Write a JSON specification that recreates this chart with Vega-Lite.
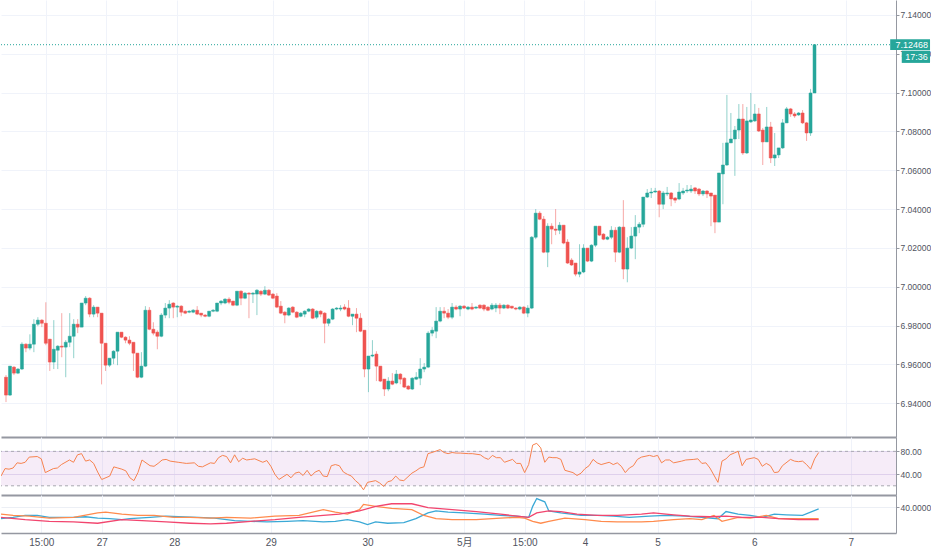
{
  "$schema": "https://vega.github.io/schema/vega-lite/v6.json",
  "background": "white",
  "padding": 0,
  "spacing": 0,
  "datasets": {
    "candles": [
      {"i":0,"o":6.9534,"h":6.9545,"l":6.9406,"c":6.9442},
      {"i":1,"o":6.9442,"h":6.9591,"l":6.9437,"c":6.9591},
      {"i":2,"o":6.9586,"h":6.9591,"l":6.9545,"c":6.9555},
      {"i":3,"o":6.9555,"h":6.9581,"l":6.9550,"c":6.9576},
      {"i":4,"o":6.9576,"h":6.9714,"l":6.9571,"c":6.9704},
      {"i":5,"o":6.9704,"h":6.9709,"l":6.9663,"c":6.9684},
      {"i":6,"o":6.9684,"h":6.9755,"l":6.9673,"c":6.9704},
      {"i":7,"o":6.9704,"h":6.9833,"l":6.9663,"c":6.9807},
      {"i":8,"o":6.9807,"h":6.9843,"l":6.9797,"c":6.9828},
      {"i":9,"o":6.9828,"h":6.9833,"l":6.9792,"c":6.9812},
      {"i":10,"o":6.9812,"h":6.9920,"l":6.9699,"c":6.9709},
      {"i":11,"o":6.9730,"h":6.9730,"l":6.9566,"c":6.9612},
      {"i":12,"o":6.9612,"h":6.9828,"l":6.9576,"c":6.9678},
      {"i":13,"o":6.9673,"h":6.9699,"l":6.9576,"c":6.9694},
      {"i":14,"o":6.9694,"h":6.9864,"l":6.9637,"c":6.9689},
      {"i":15,"o":6.9689,"h":6.9725,"l":6.9534,"c":6.9714},
      {"i":16,"o":6.9714,"h":6.9864,"l":6.9689,"c":6.9745},
      {"i":17,"o":6.9745,"h":6.9833,"l":6.9632,"c":6.9807},
      {"i":18,"o":6.9807,"h":6.9833,"l":6.9761,"c":6.9792},
      {"i":19,"o":6.9792,"h":6.9916,"l":6.9792,"c":6.9916},
      {"i":20,"o":6.9916,"h":6.9952,"l":6.9905,"c":6.9941},
      {"i":21,"o":6.9941,"h":6.9946,"l":6.9843,"c":6.9859},
      {"i":22,"o":6.9859,"h":6.9905,"l":6.9843,"c":6.9895},
      {"i":23,"o":6.9895,"h":6.9895,"l":6.9843,"c":6.9864},
      {"i":24,"o":6.9864,"h":6.9864,"l":6.9497,"c":6.9709},
      {"i":25,"o":6.9709,"h":6.9709,"l":6.9566,"c":6.9596},
      {"i":26,"o":6.9596,"h":6.9632,"l":6.9586,"c":6.9632},
      {"i":27,"o":6.9632,"h":6.9673,"l":6.9601,"c":6.9668},
      {"i":28,"o":6.9668,"h":6.9766,"l":6.9596,"c":6.9766},
      {"i":29,"o":6.9766,"h":6.9766,"l":6.9735,"c":6.9740},
      {"i":30,"o":6.9740,"h":6.9745,"l":6.9709,"c":6.9725},
      {"i":31,"o":6.9725,"h":6.9745,"l":6.9699,"c":6.9709},
      {"i":32,"o":6.9714,"h":6.9714,"l":6.9566,"c":6.9658},
      {"i":33,"o":6.9658,"h":6.9658,"l":6.9529,"c":6.9534},
      {"i":34,"o":6.9534,"h":6.9663,"l":6.9529,"c":6.9591},
      {"i":35,"o":6.9591,"h":6.9900,"l":6.9586,"c":6.9879},
      {"i":36,"o":6.9879,"h":6.9895,"l":6.9776,"c":6.9781},
      {"i":37,"o":6.9781,"h":6.9817,"l":6.9750,"c":6.9761},
      {"i":38,"o":6.9766,"h":6.9776,"l":6.9678,"c":6.9745},
      {"i":39,"o":6.9745,"h":6.9864,"l":6.9740,"c":6.9854},
      {"i":40,"o":6.9854,"h":6.9916,"l":6.9838,"c":6.9890},
      {"i":41,"o":6.9890,"h":6.9931,"l":6.9838,"c":6.9910},
      {"i":42,"o":6.9916,"h":6.9920,"l":6.9838,"c":6.9895},
      {"i":43,"o":6.9895,"h":6.9905,"l":6.9843,"c":6.9900},
      {"i":44,"o":6.9900,"h":6.9905,"l":6.9848,"c":6.9869},
      {"i":45,"o":6.9874,"h":6.9879,"l":6.9859,"c":6.9864},
      {"i":46,"o":6.9869,"h":6.9879,"l":6.9864,"c":6.9874},
      {"i":47,"o":6.9869,"h":6.9885,"l":6.9864,"c":6.9879},
      {"i":48,"o":6.9879,"h":6.9900,"l":6.9854,"c":6.9859},
      {"i":49,"o":6.9864,"h":6.9864,"l":6.9843,"c":6.9854},
      {"i":50,"o":6.9854,"h":6.9859,"l":6.9843,"c":6.9848},
      {"i":51,"o":6.9848,"h":6.9874,"l":6.9843,"c":6.9874},
      {"i":52,"o":6.9874,"h":6.9885,"l":6.9869,"c":6.9879},
      {"i":53,"o":6.9874,"h":6.9916,"l":6.9869,"c":6.9916},
      {"i":54,"o":6.9916,"h":6.9931,"l":6.9905,"c":6.9926},
      {"i":55,"o":6.9916,"h":6.9941,"l":6.9910,"c":6.9936},
      {"i":56,"o":6.9936,"h":6.9946,"l":6.9910,"c":6.9920},
      {"i":57,"o":6.9926,"h":6.9926,"l":6.9900,"c":6.9905},
      {"i":58,"o":6.9905,"h":6.9977,"l":6.9900,"c":6.9977},
      {"i":59,"o":6.9977,"h":6.9982,"l":6.9905,"c":6.9941},
      {"i":60,"o":6.9941,"h":6.9972,"l":6.9936,"c":6.9967},
      {"i":61,"o":6.9967,"h":6.9972,"l":6.9838,"c":6.9962},
      {"i":62,"o":6.9962,"h":6.9972,"l":6.9916,"c":6.9967},
      {"i":63,"o":6.9962,"h":6.9988,"l":6.9854,"c":6.9982},
      {"i":64,"o":6.9977,"h":6.9982,"l":6.9952,"c":6.9962},
      {"i":65,"o":6.9962,"h":7.0003,"l":6.9957,"c":6.9982},
      {"i":66,"o":6.9982,"h":6.9988,"l":6.9952,"c":6.9957},
      {"i":67,"o":6.9962,"h":6.9967,"l":6.9936,"c":6.9941},
      {"i":68,"o":6.9952,"h":6.9967,"l":6.9890,"c":6.9895},
      {"i":69,"o":6.9900,"h":6.9926,"l":6.9859,"c":6.9864},
      {"i":70,"o":6.9869,"h":6.9874,"l":6.9812,"c":6.9854},
      {"i":71,"o":6.9854,"h":6.9895,"l":6.9848,"c":6.9890},
      {"i":72,"o":6.9895,"h":6.9900,"l":6.9864,"c":6.9869},
      {"i":73,"o":6.9869,"h":6.9874,"l":6.9838,"c":6.9843},
      {"i":74,"o":6.9848,"h":6.9869,"l":6.9843,"c":6.9864},
      {"i":75,"o":6.9859,"h":6.9879,"l":6.9843,"c":6.9874},
      {"i":76,"o":6.9874,"h":6.9890,"l":6.9869,"c":6.9885},
      {"i":77,"o":6.9885,"h":6.9890,"l":6.9833,"c":6.9838},
      {"i":78,"o":6.9843,"h":6.9879,"l":6.9833,"c":6.9874},
      {"i":79,"o":6.9874,"h":6.9879,"l":6.9843,"c":6.9859},
      {"i":80,"o":6.9864,"h":6.9869,"l":6.9709,"c":6.9812},
      {"i":81,"o":6.9812,"h":6.9838,"l":6.9797,"c":6.9833},
      {"i":82,"o":6.9833,"h":6.9890,"l":6.9828,"c":6.9885},
      {"i":83,"o":6.9885,"h":6.9895,"l":6.9879,"c":6.9890},
      {"i":84,"o":6.9885,"h":6.9905,"l":6.9874,"c":6.9890},
      {"i":85,"o":6.9895,"h":6.9910,"l":6.9879,"c":6.9885},
      {"i":86,"o":6.9890,"h":6.9931,"l":6.9843,"c":6.9848},
      {"i":87,"o":6.9848,"h":6.9859,"l":6.9802,"c":6.9859},
      {"i":88,"o":6.9859,"h":6.9890,"l":6.9766,"c":6.9838},
      {"i":89,"o":6.9838,"h":6.9864,"l":6.9766,"c":6.9771},
      {"i":90,"o":6.9776,"h":6.9776,"l":6.9534,"c":6.9576},
      {"i":91,"o":6.9576,"h":6.9643,"l":6.9457,"c":6.9643},
      {"i":92,"o":6.9643,"h":6.9725,"l":6.9637,"c":6.9648},
      {"i":93,"o":6.9653,"h":6.9668,"l":6.9514,"c":6.9591},
      {"i":94,"o":6.9591,"h":6.9591,"l":6.9509,"c":6.9514},
      {"i":95,"o":6.9524,"h":6.9524,"l":6.9437,"c":6.9473},
      {"i":96,"o":6.9473,"h":6.9534,"l":6.9462,"c":6.9514},
      {"i":97,"o":6.9514,"h":6.9555,"l":6.9493,"c":6.9498},
      {"i":98,"o":6.9504,"h":6.9571,"l":6.9498,"c":6.9550},
      {"i":99,"o":6.9550,"h":6.9555,"l":6.9498,"c":6.9524},
      {"i":100,"o":6.9529,"h":6.9534,"l":6.9478,"c":6.9483},
      {"i":101,"o":6.9488,"h":6.9493,"l":6.9468,"c":6.9473},
      {"i":102,"o":6.9473,"h":6.9534,"l":6.9468,"c":6.9529},
      {"i":103,"o":6.9524,"h":6.9560,"l":6.9519,"c":6.9534},
      {"i":104,"o":6.9529,"h":6.9632,"l":6.9493,"c":6.9576},
      {"i":105,"o":6.9576,"h":6.9607,"l":6.9560,"c":6.9586},
      {"i":106,"o":6.9586,"h":6.9771,"l":6.9581,"c":6.9761},
      {"i":107,"o":6.9761,"h":6.9792,"l":6.9745,"c":6.9776},
      {"i":108,"o":6.9771,"h":6.9895,"l":6.9735,"c":6.9823},
      {"i":109,"o":6.9823,"h":6.9895,"l":6.9817,"c":6.9874},
      {"i":110,"o":6.9874,"h":6.9895,"l":6.9838,"c":6.9864},
      {"i":111,"o":6.9864,"h":6.9885,"l":6.9833,"c":6.9843},
      {"i":112,"o":6.9843,"h":6.9916,"l":6.9833,"c":6.9895},
      {"i":113,"o":6.9895,"h":6.9905,"l":6.9879,"c":6.9885},
      {"i":114,"o":6.9885,"h":6.9905,"l":6.9848,"c":6.9900},
      {"i":115,"o":6.9900,"h":6.9905,"l":6.9885,"c":6.9890},
      {"i":116,"o":6.9885,"h":6.9900,"l":6.9879,"c":6.9895},
      {"i":117,"o":6.9895,"h":6.9916,"l":6.9879,"c":6.9885},
      {"i":118,"o":6.9890,"h":6.9900,"l":6.9885,"c":6.9895},
      {"i":119,"o":6.9905,"h":6.9910,"l":6.9885,"c":6.9890},
      {"i":120,"o":6.9905,"h":6.9910,"l":6.9874,"c":6.9885},
      {"i":121,"o":6.9895,"h":6.9900,"l":6.9874,"c":6.9879},
      {"i":122,"o":6.9885,"h":6.9916,"l":6.9879,"c":6.9905},
      {"i":123,"o":6.9890,"h":6.9916,"l":6.9869,"c":6.9905},
      {"i":124,"o":6.9905,"h":6.9916,"l":6.9859,"c":6.9890},
      {"i":125,"o":6.9890,"h":6.9910,"l":6.9885,"c":6.9905},
      {"i":126,"o":6.9905,"h":6.9910,"l":6.9885,"c":6.9890},
      {"i":127,"o":6.9900,"h":6.9900,"l":6.9885,"c":6.9890},
      {"i":128,"o":6.9890,"h":6.9895,"l":6.9879,"c":6.9885},
      {"i":129,"o":6.9885,"h":6.9900,"l":6.9879,"c":6.9895},
      {"i":130,"o":6.9895,"h":6.9900,"l":6.9859,"c":6.9864},
      {"i":131,"o":6.9864,"h":6.9905,"l":6.9843,"c":6.9890},
      {"i":132,"o":6.9890,"h":7.0261,"l":6.9885,"c":7.0255},
      {"i":133,"o":7.0255,"h":7.0400,"l":7.0245,"c":7.0379},
      {"i":134,"o":7.0379,"h":7.0389,"l":7.0343,"c":7.0348},
      {"i":135,"o":7.0348,"h":7.0364,"l":7.0173,"c":7.0178},
      {"i":136,"o":7.0178,"h":7.0327,"l":7.0101,"c":7.0312},
      {"i":137,"o":7.0312,"h":7.0327,"l":7.0219,"c":7.0297},
      {"i":138,"o":7.0297,"h":7.0400,"l":7.0266,"c":7.0291},
      {"i":139,"o":7.0291,"h":7.0333,"l":7.0271,"c":7.0317},
      {"i":140,"o":7.0317,"h":7.0317,"l":7.0219,"c":7.0225},
      {"i":141,"o":7.0230,"h":7.0245,"l":7.0117,"c":7.0122},
      {"i":142,"o":7.0137,"h":7.0147,"l":7.0107,"c":7.0112},
      {"i":143,"o":7.0122,"h":7.0122,"l":7.0054,"c":7.0065},
      {"i":144,"o":7.0065,"h":7.0219,"l":7.0049,"c":7.0076},
      {"i":145,"o":7.0076,"h":7.0219,"l":7.0070,"c":7.0199},
      {"i":146,"o":7.0199,"h":7.0199,"l":7.0127,"c":7.0132},
      {"i":147,"o":7.0132,"h":7.0219,"l":7.0127,"c":7.0214},
      {"i":148,"o":7.0214,"h":7.0312,"l":7.0204,"c":7.0312},
      {"i":149,"o":7.0312,"h":7.0312,"l":7.0261,"c":7.0266},
      {"i":150,"o":7.0271,"h":7.0276,"l":7.0240,"c":7.0245},
      {"i":151,"o":7.0245,"h":7.0261,"l":7.0240,"c":7.0255},
      {"i":152,"o":7.0255,"h":7.0312,"l":7.0245,"c":7.0291},
      {"i":153,"o":7.0291,"h":7.0307,"l":7.0127,"c":7.0178},
      {"i":154,"o":7.0178,"h":7.0312,"l":7.0173,"c":7.0307},
      {"i":155,"o":7.0307,"h":7.0446,"l":7.0039,"c":7.0091},
      {"i":156,"o":7.0091,"h":7.0255,"l":7.0023,"c":7.0199},
      {"i":157,"o":7.0199,"h":7.0307,"l":7.0194,"c":7.0261},
      {"i":158,"o":7.0261,"h":7.0369,"l":7.0142,"c":7.0307},
      {"i":159,"o":7.0307,"h":7.0333,"l":7.0276,"c":7.0322},
      {"i":160,"o":7.0322,"h":7.0462,"l":7.0307,"c":7.0462},
      {"i":161,"o":7.0462,"h":7.0503,"l":7.0457,"c":7.0483},
      {"i":162,"o":7.0483,"h":7.0509,"l":7.0457,"c":7.0488},
      {"i":163,"o":7.0488,"h":7.0509,"l":7.0483,"c":7.0493},
      {"i":164,"o":7.0493,"h":7.0498,"l":7.0358,"c":7.0425},
      {"i":165,"o":7.0425,"h":7.0493,"l":7.0400,"c":7.0483},
      {"i":166,"o":7.0478,"h":7.0514,"l":7.0467,"c":7.0483},
      {"i":167,"o":7.0483,"h":7.0488,"l":7.0415,"c":7.0452},
      {"i":168,"o":7.0457,"h":7.0462,"l":7.0431,"c":7.0446},
      {"i":169,"o":7.0452,"h":7.0534,"l":7.0446,"c":7.0488},
      {"i":170,"o":7.0483,"h":7.0509,"l":7.0473,"c":7.0493},
      {"i":171,"o":7.0493,"h":7.0524,"l":7.0483,"c":7.0498},
      {"i":172,"o":7.0493,"h":7.0524,"l":7.0483,"c":7.0503},
      {"i":173,"o":7.0509,"h":7.0514,"l":7.0478,"c":7.0493},
      {"i":174,"o":7.0503,"h":7.0509,"l":7.0467,"c":7.0478},
      {"i":175,"o":7.0478,"h":7.0498,"l":7.0467,"c":7.0493},
      {"i":176,"o":7.0493,"h":7.0498,"l":7.0457,"c":7.0478},
      {"i":177,"o":7.0483,"h":7.0483,"l":7.0312,"c":7.0467},
      {"i":178,"o":7.0472,"h":7.0472,"l":7.0276,"c":7.0333},
      {"i":179,"o":7.0333,"h":7.0586,"l":7.0333,"c":7.0586},
      {"i":180,"o":7.0581,"h":7.0741,"l":7.0425,"c":7.0627},
      {"i":181,"o":7.0627,"h":7.0988,"l":7.0622,"c":7.0741},
      {"i":182,"o":7.0741,"h":7.0895,"l":7.0741,"c":7.0761},
      {"i":183,"o":7.0761,"h":7.0828,"l":7.0571,"c":7.0807},
      {"i":184,"o":7.0807,"h":7.0941,"l":7.0761,"c":7.0864},
      {"i":185,"o":7.0864,"h":7.0941,"l":7.0679,"c":7.0689},
      {"i":186,"o":7.0689,"h":7.0926,"l":7.0684,"c":7.0854},
      {"i":187,"o":7.0849,"h":7.0998,"l":7.0844,"c":7.0859},
      {"i":188,"o":7.0854,"h":7.0941,"l":7.0849,"c":7.0890},
      {"i":189,"o":7.0890,"h":7.0921,"l":7.0797,"c":7.0802},
      {"i":190,"o":7.0807,"h":7.0818,"l":7.0627,"c":7.0746},
      {"i":191,"o":7.0746,"h":7.0926,"l":7.0746,"c":7.0823},
      {"i":192,"o":7.0823,"h":7.0849,"l":7.0637,"c":7.0663},
      {"i":193,"o":7.0663,"h":7.0792,"l":7.0622,"c":7.0679},
      {"i":194,"o":7.0679,"h":7.0715,"l":7.0663,"c":7.0715},
      {"i":195,"o":7.0715,"h":7.0864,"l":7.0710,"c":7.0844},
      {"i":196,"o":7.0844,"h":7.0926,"l":7.0844,"c":7.0916},
      {"i":197,"o":7.0916,"h":7.0921,"l":7.0875,"c":7.0890},
      {"i":198,"o":7.0890,"h":7.0900,"l":7.0870,"c":7.0880},
      {"i":199,"o":7.0885,"h":7.0900,"l":7.0880,"c":7.0895},
      {"i":200,"o":7.0895,"h":7.0910,"l":7.0838,"c":7.0844},
      {"i":201,"o":7.0844,"h":7.0849,"l":7.0751,"c":7.0792},
      {"i":202,"o":7.0792,"h":7.1019,"l":7.0777,"c":7.0998},
      {"i":203,"o":7.0998,"h":7.12468,"l":7.0998,"c":7.12468}
    ],
    "rsi": [
      {"i":0,"v":37},{"i":1,"v":50},{"i":2,"v":49},{"i":3,"v":51},{"i":4,"v":60},{"i":5,"v":59},{"i":6,"v":61},{"i":7,"v":70},{"i":9,"v":71},{"i":10,"v":67},
      {"i":11,"v":43},{"i":13,"v":50},{"i":14,"v":51},{"i":15,"v":57},{"i":17,"v":65},{"i":18,"v":61},{"i":19,"v":74},{"i":20,"v":76},{"i":21,"v":63},{"i":22,"v":65},
      {"i":23,"v":59},{"i":24,"v":44},{"i":25,"v":31},{"i":27,"v":37},{"i":28,"v":53},{"i":29,"v":51},{"i":30,"v":49},{"i":31,"v":46},{"i":32,"v":34},{"i":33,"v":29},
      {"i":34,"v":43},{"i":35,"v":65},{"i":37,"v":55},{"i":38,"v":54},{"i":39,"v":59},{"i":40,"v":65},{"i":41,"v":66},{"i":42,"v":63},{"i":44,"v":61},{"i":45,"v":60},
      {"i":46,"v":59},{"i":48,"v":60},{"i":49,"v":54},{"i":50,"v":53},{"i":52,"v":60},{"i":53,"v":59},{"i":54,"v":69},{"i":55,"v":73},{"i":56,"v":71},{"i":57,"v":60},
      {"i":58,"v":74},{"i":59,"v":62},{"i":60,"v":68},{"i":61,"v":65},{"i":62,"v":66},{"i":63,"v":67},{"i":65,"v":61},{"i":66,"v":64},{"i":67,"v":54},{"i":68,"v":40},
      {"i":69,"v":31},{"i":71,"v":40},{"i":72,"v":34},{"i":73,"v":42},{"i":74,"v":44},{"i":75,"v":38},{"i":76,"v":47},{"i":77,"v":37},{"i":78,"v":44},{"i":79,"v":47},
      {"i":80,"v":37},{"i":81,"v":36},{"i":82,"v":55},{"i":83,"v":57},{"i":84,"v":55},{"i":85,"v":44},{"i":86,"v":40},{"i":87,"v":37},{"i":88,"v":29},{"i":89,"v":23},
      {"i":90,"v":13},{"i":91,"v":26},{"i":93,"v":29},{"i":94,"v":25},{"i":95,"v":19},{"i":96,"v":27},{"i":97,"v":29},{"i":98,"v":37},{"i":99,"v":30},{"i":100,"v":29},
      {"i":102,"v":42},{"i":103,"v":46},{"i":104,"v":51},{"i":105,"v":53},{"i":106,"v":76},{"i":107,"v":78},{"i":109,"v":83},{"i":110,"v":78},{"i":111,"v":76},{"i":112,"v":78},
      {"i":113,"v":77},{"i":114,"v":77},{"i":116,"v":76},{"i":117,"v":76},{"i":119,"v":74},{"i":120,"v":69},{"i":121,"v":66},{"i":122,"v":73},{"i":123,"v":69},{"i":124,"v":69},
      {"i":125,"v":61},{"i":127,"v":66},{"i":128,"v":59},{"i":129,"v":59},{"i":130,"v":43},{"i":131,"v":57},{"i":132,"v":91},{"i":133,"v":94},{"i":134,"v":86},{"i":135,"v":61},
      {"i":136,"v":70},{"i":137,"v":69},{"i":138,"v":69},{"i":139,"v":66},{"i":140,"v":47},{"i":142,"v":43},{"i":143,"v":38},{"i":144,"v":42},{"i":145,"v":50},{"i":146,"v":55},
      {"i":147,"v":66},{"i":148,"v":60},{"i":149,"v":57},{"i":151,"v":61},{"i":152,"v":57},{"i":153,"v":60},{"i":154,"v":54},{"i":155,"v":43},{"i":156,"v":51},{"i":157,"v":55},
      {"i":158,"v":66},{"i":159,"v":70},{"i":161,"v":73},{"i":162,"v":71},{"i":163,"v":73},{"i":164,"v":60},{"i":165,"v":65},{"i":166,"v":65},{"i":167,"v":60},{"i":169,"v":63},
      {"i":170,"v":65},{"i":172,"v":66},{"i":173,"v":67},{"i":174,"v":59},{"i":175,"v":60},{"i":176,"v":51},{"i":178,"v":26},{"i":179,"v":63},{"i":180,"v":67},{"i":181,"v":74},
      {"i":182,"v":77},{"i":183,"v":80},{"i":184,"v":55},{"i":185,"v":66},{"i":187,"v":69},{"i":188,"v":66},{"i":189,"v":54},{"i":190,"v":59},{"i":191,"v":55},{"i":192,"v":43},
      {"i":193,"v":44},{"i":194,"v":55},{"i":196,"v":66},{"i":197,"v":63},{"i":198,"v":62},{"i":199,"v":63},{"i":200,"v":57},{"i":201,"v":49},{"i":202,"v":67},{"i":203,"v":78}
    ],
    "dmi": [
      {"s":"+DI","i":0,"v":22},{"s":"+DI","i":3,"v":24},{"s":"+DI","i":6,"v":27},{"s":"+DI","i":9,"v":27},{"s":"+DI","i":12,"v":24},{"s":"+DI","i":15,"v":24},
      {"s":"+DI","i":18,"v":24},{"s":"+DI","i":21,"v":25},{"s":"+DI","i":24,"v":23},{"s":"+DI","i":27,"v":22},{"s":"+DI","i":30,"v":20.5},{"s":"+DI","i":32,"v":22},
      {"s":"+DI","i":37,"v":24},{"s":"+DI","i":41,"v":26},{"s":"+DI","i":44,"v":25},{"s":"+DI","i":49,"v":24},{"s":"+DI","i":53,"v":23},{"s":"+DI","i":58,"v":19},
      {"s":"+DI","i":62,"v":18},{"s":"+DI","i":66,"v":17},{"s":"+DI","i":71,"v":18},{"s":"+DI","i":75,"v":19},{"s":"+DI","i":80,"v":17},{"s":"+DI","i":83,"v":18},
      {"s":"+DI","i":86,"v":20.5},{"s":"+DI","i":89,"v":17},{"s":"+DI","i":91,"v":13},{"s":"+DI","i":93,"v":17},{"s":"+DI","i":96,"v":15},{"s":"+DI","i":100,"v":16},
      {"s":"+DI","i":103,"v":22},{"s":"+DI","i":106,"v":31},{"s":"+DI","i":108,"v":34},{"s":"+DI","i":111,"v":32},{"s":"+DI","i":115,"v":31},{"s":"+DI","i":120,"v":29},
      {"s":"+DI","i":124,"v":27},{"s":"+DI","i":128,"v":26},{"s":"+DI","i":131,"v":24},{"s":"+DI","i":132,"v":41},{"s":"+DI","i":133,"v":53},{"s":"+DI","i":135,"v":48},
      {"s":"+DI","i":136,"v":34},{"s":"+DI","i":139,"v":31},{"s":"+DI","i":144,"v":27},{"s":"+DI","i":148,"v":27},{"s":"+DI","i":152,"v":26},{"s":"+DI","i":156,"v":24},
      {"s":"+DI","i":161,"v":26},{"s":"+DI","i":165,"v":27},{"s":"+DI","i":170,"v":26},{"s":"+DI","i":174,"v":24},{"s":"+DI","i":178,"v":22},{"s":"+DI","i":180,"v":33},
      {"s":"+DI","i":183,"v":29},{"s":"+DI","i":186,"v":27},{"s":"+DI","i":189,"v":24},{"s":"+DI","i":192,"v":29},{"s":"+DI","i":195,"v":28},{"s":"+DI","i":199,"v":27},
      {"s":"+DI","i":203,"v":37},
      {"s":"-DI","i":0,"v":29},{"s":"-DI","i":3,"v":27},{"s":"-DI","i":7,"v":26},{"s":"-DI","i":12,"v":23},{"s":"-DI","i":18,"v":24},{"s":"-DI","i":24,"v":31},
      {"s":"-DI","i":26,"v":32},{"s":"-DI","i":30,"v":29},{"s":"-DI","i":34,"v":27},{"s":"-DI","i":38,"v":27},{"s":"-DI","i":43,"v":24},{"s":"-DI","i":47,"v":24},
      {"s":"-DI","i":52,"v":23},{"s":"-DI","i":56,"v":24},{"s":"-DI","i":62,"v":23},{"s":"-DI","i":68,"v":26},{"s":"-DI","i":74,"v":27},{"s":"-DI","i":80,"v":36},
      {"s":"-DI","i":83,"v":32},{"s":"-DI","i":86,"v":29},{"s":"-DI","i":89,"v":36},{"s":"-DI","i":90,"v":44},{"s":"-DI","i":93,"v":41},{"s":"-DI","i":97,"v":38},
      {"s":"-DI","i":102,"v":36},{"s":"-DI","i":105,"v":27},{"s":"-DI","i":108,"v":22},{"s":"-DI","i":112,"v":20.5},{"s":"-DI","i":118,"v":20.5},{"s":"-DI","i":124,"v":23},
      {"s":"-DI","i":128,"v":24},{"s":"-DI","i":130,"v":23},{"s":"-DI","i":132,"v":18},{"s":"-DI","i":134,"v":15},{"s":"-DI","i":136,"v":18},{"s":"-DI","i":140,"v":23},
      {"s":"-DI","i":145,"v":20.5},{"s":"-DI","i":149,"v":18},{"s":"-DI","i":153,"v":17},{"s":"-DI","i":159,"v":17},{"s":"-DI","i":162,"v":18},{"s":"-DI","i":167,"v":20.5},
      {"s":"-DI","i":171,"v":22},{"s":"-DI","i":174,"v":20.5},{"s":"-DI","i":177,"v":27},{"s":"-DI","i":179,"v":18},{"s":"-DI","i":183,"v":24},{"s":"-DI","i":186,"v":23},
      {"s":"-DI","i":190,"v":27},{"s":"-DI","i":193,"v":22},{"s":"-DI","i":198,"v":22},{"s":"-DI","i":203,"v":22},
      {"s":"ADX","i":0,"v":24},{"s":"ADX","i":6,"v":20.5},{"s":"ADX","i":12,"v":18},{"s":"ADX","i":18,"v":17},{"s":"ADX","i":24,"v":15},{"s":"ADX","i":30,"v":20.5},
      {"s":"ADX","i":35,"v":19},{"s":"ADX","i":41,"v":17},{"s":"ADX","i":47,"v":15},{"s":"ADX","i":52,"v":14},{"s":"ADX","i":56,"v":15},{"s":"ADX","i":62,"v":18},
      {"s":"ADX","i":68,"v":20.5},{"s":"ADX","i":74,"v":24},{"s":"ADX","i":80,"v":27},{"s":"ADX","i":84,"v":29},{"s":"ADX","i":89,"v":34},{"s":"ADX","i":93,"v":41},
      {"s":"ADX","i":97,"v":45},{"s":"ADX","i":102,"v":45},{"s":"ADX","i":106,"v":39},{"s":"ADX","i":112,"v":36},{"s":"ADX","i":118,"v":33},{"s":"ADX","i":124,"v":29},
      {"s":"ADX","i":131,"v":24},{"s":"ADX","i":133,"v":31},{"s":"ADX","i":136,"v":34},{"s":"ADX","i":139,"v":33},{"s":"ADX","i":143,"v":29},{"s":"ADX","i":148,"v":27},
      {"s":"ADX","i":153,"v":27},{"s":"ADX","i":159,"v":29},{"s":"ADX","i":162,"v":31},{"s":"ADX","i":167,"v":28},{"s":"ADX","i":171,"v":26},{"s":"ADX","i":176,"v":25},
      {"s":"ADX","i":180,"v":26},{"s":"ADX","i":184,"v":24},{"s":"ADX","i":189,"v":24},{"s":"ADX","i":193,"v":22},{"s":"ADX","i":198,"v":20.5},{"s":"ADX","i":203,"v":20.5}
    ]
  },
  "vconcat": [
    {
      "width": 895,
      "height": 437,
      "layer": [
        {
          "data": {"name": "candles"},
          "mark": {"type": "rule", "strokeWidth": 1, "opacity": 0.5, "clip": true},
          "encoding": {
            "x": {
              "field": "i",
              "type": "quantitative",
              "title": null,
              "scale": {"domain": [0, 222.2], "nice": false, "zero": false},
              "axis": {
                "values": [10, 25, 43, 67, 91, 115, 130, 145, 163, 187, 211],
                "labels": false,
                "ticks": false,
                "grid": true,
                "gridColor": "#f0f3fa",
                "domainColor": "#9598a1",
                "domainWidth": 2
              }
            },
            "y": {
              "field": "l",
              "type": "quantitative",
              "title": null,
              "scale": {"domain": [6.9226, 7.1477], "nice": false, "zero": false},
              "axis": {
                "orient": "right",
                "values": [6.94, 6.96, 6.98, 7.0, 7.02, 7.04, 7.06, 7.08, 7.1, 7.12, 7.14],
                "format": ".5f",
                "grid": true,
                "gridColor": "#f0f3fa",
                "ticks": true,
                "tickSize": 3,
                "tickColor": "#9598a1",
                "labelPadding": 1,
                "domainColor": "#9598a1"
              }
            },
            "y2": {"field": "h"},
            "color": {"condition": {"test": "datum.c >= datum.o", "value": "#26a69a"}, "value": "#ef5350"}
          }
        },
        {
          "data": {"name": "candles"},
          "mark": {"type": "bar", "width": 3, "strokeWidth": 0.5, "clip": true},
          "encoding": {
            "x": {"field": "i", "type": "quantitative", "title": null},
            "y": {"field": "o", "type": "quantitative", "title": null},
            "y2": {"field": "c"},
            "color": {"condition": {"test": "datum.c >= datum.o", "value": "#26a69a"}, "value": "#ef5350"},
            "stroke": {"condition": {"test": "datum.c >= datum.o", "value": "#26a69a"}, "value": "#ef5350"}
          }
        },
        {
          "data": {"values": [{}]},
          "mark": {"type": "rule", "color": "#26a69a", "strokeDash": [1, 2], "strokeWidth": 1},
          "encoding": {"y": {"datum": 7.12468}}
        },
        {
          "data": {"values": [{}]},
          "mark": {"type": "rect", "color": "#26a69a", "clip": false},
          "encoding": {
            "x": {"datum": 222.0},
            "x2": {"datum": 232},
            "y": {"datum": 7.1275},
            "y2": {"datum": 7.1219}
          }
        },
        {
          "data": {"values": [{}]},
          "mark": {"type": "rect", "color": "#26a69a", "clip": false},
          "encoding": {
            "x": {"datum": 224.9},
            "x2": {"datum": 232},
            "y": {"datum": 7.1216},
            "y2": {"datum": 7.1153}
          }
        },
        {
          "data": {"values": [{}]},
          "mark": {"type": "text", "color": "white", "align": "left", "baseline": "middle", "fontSize": 9, "font": "Liberation Sans", "clip": false},
          "encoding": {
            "x": {"datum": 223.3},
            "y": {"datum": 7.12468},
            "text": {"value": "7.12468"}
          }
        },
        {
          "data": {"values": [{}]},
          "mark": {"type": "text", "color": "white", "align": "left", "baseline": "middle", "fontSize": 9, "font": "Liberation Sans", "clip": false},
          "encoding": {
            "x": {"datum": 225.8},
            "y": {"datum": 7.1185},
            "text": {"value": "17:36"}
          }
        }
      ]
    },
    {
      "width": 895,
      "height": 58,
      "layer": [
        {
          "data": {"values": [{}]},
          "mark": {"type": "rect", "color": "#9c27b0", "opacity": 0.09},
          "encoding": {
            "x": {
              "datum": 0,
              "type": "quantitative",
              "title": null,
              "scale": {"domain": [0, 222.2], "nice": false, "zero": false},
              "axis": {
                "values": [10, 25, 43, 67, 91, 115, 130, 145, 163, 187, 211],
                "labels": false,
                "ticks": false,
                "grid": true,
                "gridColor": "#f0f3fa",
                "domainColor": "#9598a1",
                "domainWidth": 2
              }
            },
            "x2": {"datum": 222.2},
            "y": {
              "datum": 80,
              "type": "quantitative",
              "title": null,
              "scale": {"domain": [4, 105], "nice": false, "zero": false},
              "axis": {
                "orient": "right",
                "values": [40, 80],
                "format": ".2f",
                "grid": true,
                "gridColor": "#e6e1f2",
                "ticks": true,
                "tickSize": 3,
                "tickColor": "#9598a1",
                "labelPadding": 1,
                "domainColor": "#9598a1"
              }
            },
            "y2": {"datum": 20}
          }
        },
        {
          "data": {"values": [{}]},
          "mark": {"type": "rule", "color": "#a8a8b0", "strokeDash": [3, 3], "strokeWidth": 1},
          "encoding": {"y": {"datum": 80}}
        },
        {
          "data": {"values": [{}]},
          "mark": {"type": "rule", "color": "#a8a8b0", "strokeDash": [3, 3], "strokeWidth": 1},
          "encoding": {"y": {"datum": 20}}
        },
        {
          "data": {"name": "rsi"},
          "mark": {"type": "line", "color": "#f7834f", "strokeWidth": 1, "clip": true},
          "encoding": {
            "x": {"field": "i", "type": "quantitative", "title": null},
            "y": {"field": "v", "type": "quantitative", "title": null}
          }
        }
      ]
    },
    {
      "width": 895,
      "height": 38,
      "data": {"name": "dmi"},
      "mark": {"type": "line", "strokeWidth": 1.3, "clip": true},
      "encoding": {
        "x": {
          "field": "i",
          "type": "quantitative",
          "title": null,
          "scale": {"domain": [0, 222.2], "nice": false, "zero": false},
          "axis": {
            "values": [10, 25, 43, 67, 91, 115, 130, 145, 163, 187, 211],
            "labelExpr": "datum.value == 10 ? '15:00' : datum.value == 25 ? '27' : datum.value == 43 ? '28' : datum.value == 67 ? '29' : datum.value == 91 ? '30' : datum.value == 115 ? '5月' : datum.value == 130 ? '15:00' : datum.value == 145 ? '4' : datum.value == 163 ? '5' : datum.value == 187 ? '6' : '7'",
            "ticks": false,
            "labelPadding": 4,
            "grid": true,
            "gridColor": "#f0f3fa",
            "domainColor": "#9598a1",
            "domainWidth": 1.5
          }
        },
        "y": {
          "field": "v",
          "type": "quantitative",
          "title": null,
          "scale": {"domain": [0, 58.5], "nice": false, "zero": false},
          "axis": {
            "orient": "right",
            "values": [40],
            "format": ".4f",
            "grid": true,
            "gridColor": "#eceff5",
            "ticks": true,
            "tickSize": 3,
            "tickColor": "#9598a1",
            "labelPadding": 1,
            "domainColor": "#9598a1"
          }
        },
        "color": {
          "field": "s",
          "type": "nominal",
          "scale": {"domain": ["+DI", "-DI", "ADX"], "range": ["#3ba9d6", "#ff8b4d", "#f2456e"]},
          "legend": null
        },
        "order": {"field": "i", "type": "quantitative"}
      }
    }
  ],
  "config": {
    "view": {"stroke": null},
    "font": "Liberation Sans, Noto Sans CJK JP",
    "axis": {
      "labelFont": "Liberation Sans, Noto Sans CJK JP",
      "labelFontSize": 10,
      "labelColor": "#50535e",
      "zindex": 0
    },
    "axisY": {
      "labelFontSize": 8.5
    }
  }
}
